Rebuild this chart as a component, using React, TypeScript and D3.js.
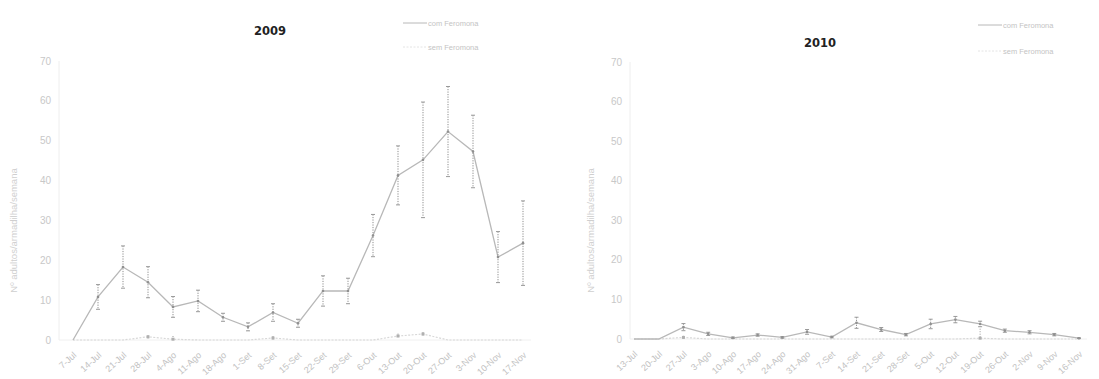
import React from "react";
import * as d3 from "d3";

const yTicks = [0, 10, 20, 30, 40, 50, 60, 70];

const cats2009 = ["7-Jul","14-Jul","21-Jul","28-Jul","4-Ago","11-Ago","18-Ago","1-Set","8-Set","15-Set","22-Set","29-Set","6-Out","13-Out","20-Out","27-Out","3-Nov","10-Nov","17-Nov"];
const com2009 = [0, 10.8, 18.3, 14.5, 8.3, 9.8, 5.7, 3.3, 6.9, 4.2, 12.3, 12.3, 26.2, 41.3, 45.2, 52.3, 47.3, 20.8, 24.3];
const comErr2009 = [0, 3.1, 5.3, 3.9, 2.6, 2.7, 1.0, 1.0, 2.2, 1.0, 3.8, 3.2, 5.3, 7.4, 14.5, 11.3, 9.1, 6.4, 10.6];
const sem2009 = [0, 0, 0, 0.8, 0.2, 0, 0, 0, 0.5, 0, 0, 0, 0, 1.0, 1.5, 0, 0, 0, 0];
const semErr2009 = [0, 0, 0, 0.4, 0.8, 0, 0, 0, 0.5, 0, 0, 0, 0, 0.6, 0.5, 0, 0, 0, 0];

const cats2010 = ["13-Jul","20-Jul","27-Jul","3-Ago","10-Ago","17-Ago","24-Ago","31-Ago","7-Set","14-Set","21-Set","28-Set","5-Out","12-Out","19-Out","26-Out","2-Nov","9-Nov","16-Nov"];
const com2010 = [0, 0, 3.0, 1.3, 0.3, 1.0, 0.4, 1.8, 0.5, 4.1, 2.4, 1.1, 3.8, 4.9, 3.8, 2.1, 1.7, 1.1, 0.2];
const comErr2010 = [0, 0, 0.9, 0.4, 0.2, 0.3, 0.2, 0.6, 0.2, 1.4, 0.5, 0.3, 1.2, 0.8, 0.7, 0.4, 0.4, 0.3, 0.1];
const sem2010 = [0, 0, 0.4, 0, 0, 0, 0, 0, 0, 0, 0, 0, 0, 0, 0.2, 0, 0, 0, 0];
const semErr2010 = [0, 0, 0.4, 0, 0, 0, 0, 0, 0, 0, 0, 0, 0, 0, 2.4, 0, 0, 0, 0];

const seriesNames = ["com Feromona", "sem Feromona"];

type PanelProps = {
  title: string;
  cats: string[];
  com: number[];
  comErr: number[];
  sem: number[];
  semErr: number[];
  xRange: [number, number];
  yRange: [number, number];
  axisX: number;
  titlePos: [number, number];
  legendPos: [number, number, number];
  yTitleX: number;
};

function Panel(p: PanelProps) {
  const x = d3.scalePoint<string>().domain(p.cats).range(p.xRange);
  const y = d3.scaleLinear().domain([0, 70]).range(p.yRange);
  const line = d3.line<number>().x((_, i) => x(p.cats[i]) as number).y((d) => y(d));
  const font = "Liberation Sans, Arial, sans-serif";
  const [lx, ly, lgap] = p.legendPos;
  return (
    <g fontFamily={font}>
      <line x1={p.axisX} x2={p.axisX} y1={y(70)} y2={y(0)} stroke="#eeeeee" />
      <line x1={p.axisX} x2={p.xRange[1] + 8} y1={y(0)} y2={y(0)} stroke="#f0f0f0" />
      {yTicks.map((t) => (
        <text key={t} x={p.axisX - 8} y={y(t) + 3.5} textAnchor="end" fontSize={10} fill="#c8c8c8">
          {t}
        </text>
      ))}
      <text
        transform={`translate(${p.yTitleX},${(y(0) + y(70)) / 2 + 30}) rotate(-90)`}
        textAnchor="middle"
        fontSize={9.5}
        fill="#cfcfcf"
      >
        Nº adultos/armadilha/semana
      </text>
      {p.cats.map((c) => (
        <text
          key={c}
          transform={`translate(${(x(c) as number) + 4},${y(0) + 16}) rotate(-42)`}
          textAnchor="end"
          fontSize={9}
          fill="#c2c2c2"
        >
          {c}
        </text>
      ))}
      <path d={line(p.sem) || ""} fill="none" stroke="#d8d8d8" strokeWidth={1.2} strokeDasharray="2,1.5" />
      {p.sem.map((v, i) =>
        p.semErr[i] > 0 ? (
          <g key={"se" + i}>
            <line x1={x(p.cats[i])} x2={x(p.cats[i])} y1={y(v + p.semErr[i])} y2={y(Math.max(0, v - p.semErr[i]))} stroke="#9a9a9a" strokeDasharray="1,1.5" />
            <rect x={(x(p.cats[i]) as number) - 1.5} y={y(v) - 1.5} width={3} height={3} fill="#b0b0b0" />
          </g>
        ) : null
      )}
      <path d={line(p.com) || ""} fill="none" stroke="#b8b8b8" strokeWidth={1.3} />
      {p.com.map((v, i) => {
        const cx = x(p.cats[i]) as number;
        const e = p.comErr[i];
        if (e <= 0) return null;
        return (
          <g key={"ce" + i}>
            <line x1={cx} x2={cx} y1={y(v + e)} y2={y(Math.max(0, v - e))} stroke="#8c8c8c" strokeWidth={1} strokeDasharray="1.2,1.3" />
            <line x1={cx - 2} x2={cx + 2} y1={y(v + e)} y2={y(v + e)} stroke="#999" />
            <line x1={cx - 2} x2={cx + 2} y1={y(Math.max(0, v - e))} y2={y(Math.max(0, v - e))} stroke="#999" />
            <circle cx={cx} cy={y(v)} r={1.3} fill="#909090" />
          </g>
        );
      })}
      <text x={p.titlePos[0]} y={p.titlePos[1]} textAnchor="middle" fontSize={11.5} fontWeight="bold" fill="#222" fontFamily="DejaVu Sans, sans-serif">
        {p.title}
      </text>
      <line x1={lx} x2={lx + 24} y1={ly} y2={ly} stroke="#b8b8b8" />
      <text x={lx + 25} y={ly + 2.5} fontSize={7.5} fill="#c4c4c4">{seriesNames[0]}</text>
      <line x1={lx} x2={lx + 24} y1={ly + lgap} y2={ly + lgap} stroke="#e4e4e4" strokeDasharray="2,1.5" />
      <text x={lx + 25} y={ly + lgap + 2.5} fontSize={7.5} fill="#c4c4c4">{seriesNames[1]}</text>
    </g>
  );
}

export default function App() {
  return (
    <div style={{ position: "absolute", left: 0, top: 0 }}>
      <svg width={1099} height={379} style={{ display: "block", background: "#fff" }}>
        <Panel
          title="2009"
          cats={cats2009}
          com={com2009}
          comErr={comErr2009}
          sem={sem2009}
          semErr={semErr2009}
          xRange={[73, 523]}
          yRange={[340, 61]}
          axisX={59}
          titlePos={[270, 35]}
          legendPos={[403, 23, 24]}
          yTitleX={17}
        />
        <Panel
          title="2010"
          cats={cats2010}
          com={com2010}
          comErr={comErr2010}
          sem={sem2010}
          semErr={semErr2010}
          xRange={[634, 1079]}
          yRange={[339, 62]}
          axisX={630}
          titlePos={[820, 47]}
          legendPos={[978, 25, 26]}
          yTitleX={594}
        />
      </svg>
    </div>
  );
}
